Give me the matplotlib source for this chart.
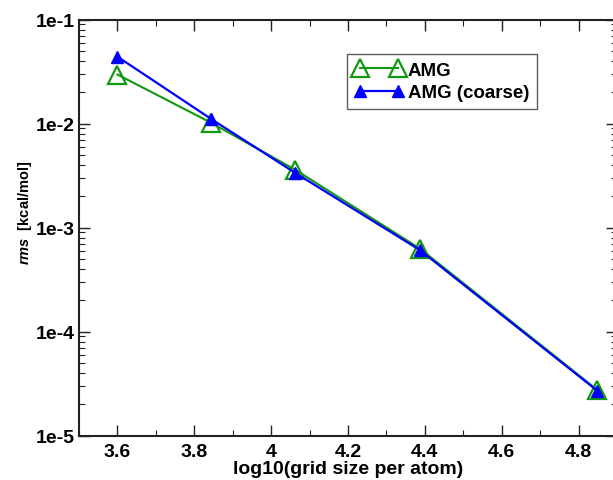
import matplotlib
matplotlib.use("Agg")
import matplotlib.pyplot as plt
from matplotlib.ticker import LogLocator, NullFormatter, MultipleLocator

plt.rcParams['font.family'] = ['Liberation Sans', 'DejaVu Sans']
plt.rcParams['mathtext.fontset'] = 'custom'
plt.rcParams['mathtext.it'] = 'Liberation Sans:italic:bold'
plt.rcParams['mathtext.rm'] = 'Liberation Sans:bold'

# Data
x_amg = [3.6, 3.844, 4.063, 4.387, 4.849]
y_amg = [0.0297, 0.0102, 0.0036, 6.3e-4, 2.75e-5]
x_coarse = [3.6, 3.844, 4.063, 4.387, 4.849]
y_coarse = [0.0441, 0.0111, 0.00336, 6.1e-4, 2.7e-5]
ytick_vals = [1e-5, 1e-4, 1e-3, 1e-2, 1e-1]
ytick_labels = ['1e-5', '1e-4', '1e-3', '1e-2', '1e-1']
xtick_vals = [3.6, 3.8, 4.0, 4.2, 4.4, 4.6, 4.8]
xtick_labels = ['3.6', '3.8', '4', '4.2', '4.4', '4.6', '4.8']

W, H = 613, 481
fig = plt.figure(figsize=(W / 100, H / 100), dpi=100)
left, right, top, bottom = 79, 617, 20.7, 436.7
ax = fig.add_axes([left / W, 1 - bottom / H, (right - left) / W, (bottom - top) / H])

green = '#109810'
blue = '#0000ff'
ax.plot(x_amg, y_amg, color=green, lw=1.5, marker='^', ms=13.5, mfc='none',
        mec=green, mew=1.6, label='AMG', zorder=3)
ax.plot(x_coarse, y_coarse, color=blue, lw=1.6, marker='^', ms=8, mfc=blue,
        mec=blue, label='AMG (coarse)', zorder=4)

ax.set_yscale('log')
ax.set_xlim(3.5, 4.9)
ax.set_ylim(1e-5, 1e-1)

ax.set_yticks(ytick_vals)
ax.set_yticklabels(ytick_labels)
ax.yaxis.set_minor_locator(LogLocator(base=10, subs=range(2, 10)))
ax.yaxis.set_minor_formatter(NullFormatter())
ax.set_xticks(xtick_vals)
ax.set_xticklabels(xtick_labels)
ax.xaxis.set_minor_locator(MultipleLocator(0.1))

for lab in ax.get_xticklabels() + ax.get_yticklabels():
    lab.set_fontweight('bold')
    lab.set_fontsize(14)

ax.tick_params(which='both', direction='in', top=True, right=True, color='#222222')
ax.tick_params(which='major', length=8, width=1.0)
ax.tick_params(axis='x', which='major', pad=5)
ax.tick_params(axis='y', which='major', pad=3)
ax.tick_params(which='minor', length=4.5, width=0.8)
for s in ax.spines.values():
    s.set_linewidth(1.5)
    s.set_color('#222222')

ax.set_xlabel('log10(grid size per atom)', fontsize=14, fontweight='bold', labelpad=0)
ax.set_ylabel(r'$\mathit{rms}$  [kcal/mol]', fontsize=10.5, fontweight='bold')
ax.yaxis.set_label_coords(-0.083, 0.538)

leg = ax.legend(loc='upper left', bbox_to_anchor=(347 / W, 1 - 55 / H),
                bbox_transform=fig.transFigure, numpoints=2, fancybox=False,
                frameon=True, edgecolor='#333333', handlelength=2.6,
                handletextpad=0.25, borderpad=0.4, labelspacing=0.3,
                borderaxespad=0,
                prop={'family': 'Liberation Sans', 'weight': 'bold', 'size': 13.5})
leg.get_frame().set_linewidth(1.0)

fig.savefig('out.png', dpi=100)
